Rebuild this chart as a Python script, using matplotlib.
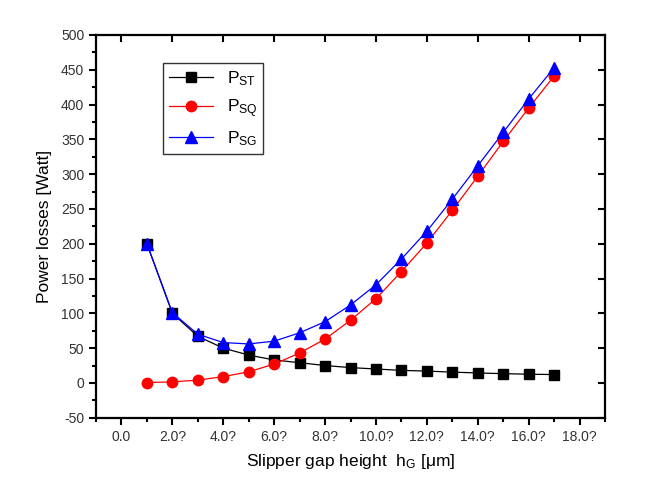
import matplotlib
matplotlib.use("Agg")
import matplotlib.pyplot as plt
from matplotlib.ticker import MultipleLocator

plt.rcParams['font.family'] = ['Liberation Sans', 'DejaVu Sans']
plt.rcParams['mathtext.fontset'] = 'custom'
plt.rcParams['mathtext.rm'] = 'Liberation Sans'
plt.rcParams['mathtext.it'] = 'Liberation Sans'
plt.rcParams['axes.unicode_minus'] = False

h = [1, 2, 3, 4, 5, 6, 7, 8, 9, 10, 11, 12, 13, 14, 15, 16, 17]
p_st = [200, 100, 67, 50, 40, 33, 29, 25, 22, 20, 18, 17, 15.5, 14.3, 13.3, 12.5, 12]
p_sq = [0.5, 1.5, 4, 9, 16, 27, 43, 63, 90, 121, 160, 201, 248, 297, 347, 395, 441]
p_sg = [200, 101, 70, 58, 56, 60, 72, 88, 112, 141, 178, 218, 264, 312, 360, 408, 453]

xtick_vals = [0, 2, 4, 6, 8, 10, 12, 14, 16, 18]
xtick_labels = ["0.0", "2.0?", "4.0?", "6.0?", "8.0?", "10.0?", "12.0?", "14.0?", "16.0?", "18.0?"]
ytick_vals = [-50, 0, 50, 100, 150, 200, 250, 300, 350, 400, 450, 500]

fig = plt.figure(figsize=(6.62, 4.93), dpi=100)
ax = fig.add_axes([96/662, 1-417.7/493, (605-96)/662, (417.7-35)/493])

ax.plot(h, p_st, color='black', lw=0.9, marker='s', ms=6.5, mfc='black', mec='black', label=r'P$_{\mathregular{ST}}$')
ax.plot(h, p_sq, color='red', lw=0.9, marker='o', ms=7.5, mfc='red', mec='red', label=r'P$_{\mathregular{SQ}}$')
ax.plot(h, p_sg, color='blue', lw=0.9, marker='^', ms=8, mfc='blue', mec='blue', label=r'P$_{\mathregular{SG}}$')

ax.set_xlim(-1, 19)
ax.set_ylim(-50, 500)
ax.set_xticks(xtick_vals)
ax.set_xticklabels(xtick_labels)
ax.set_yticks(ytick_vals)
ax.xaxis.set_minor_locator(MultipleLocator(1))
ax.yaxis.set_minor_locator(MultipleLocator(25))

for s in ax.spines.values():
    s.set_linewidth(1.6)

ax.tick_params(axis='both', which='major', direction='out', length=5, width=1.5,
               labelsize=10, labelcolor='#333333', top=False, right=False)
ax.tick_params(axis='both', which='minor', direction='out', length=3, width=1.5,
               top=False, right=False)

# inward ticks on top and right (major only)
axt = ax.secondary_xaxis('top')
axt.set_xticks(xtick_vals)
axt.tick_params(direction='in', length=5, width=1.5, labeltop=False)
axt.spines['top'].set_visible(False)
axr = ax.secondary_yaxis('right')
axr.set_yticks(ytick_vals)
axr.tick_params(direction='in', length=5, width=1.5, labelright=False)
axr.spines['right'].set_visible(False)

ax.set_xlabel(r'Slipper gap height  h$_{\mathregular{G}}$ [$\mathregular{\mu}$m]', fontsize=12.5, labelpad=6)
ax.set_ylabel('Power losses [Watt]', fontsize=12.5, labelpad=6)

leg = ax.legend(loc='upper left', bbox_to_anchor=(0.132, 0.927), borderaxespad=0, fontsize=12.5,
                frameon=True, fancybox=False, edgecolor='black', handlelength=2.5,
                borderpad=0.35, labelspacing=0.55, handletextpad=0.8)
leg.get_frame().set_linewidth(1.0)

fig.savefig('out.png', dpi=100)
